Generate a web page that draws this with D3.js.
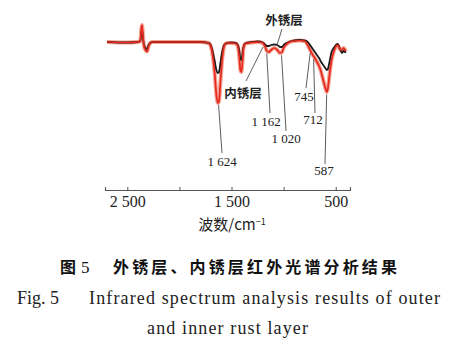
<!DOCTYPE html>
<html>
<head>
<meta charset="utf-8">
<script src="https://cdn.jsdelivr.net/npm/d3@7"></script>
<style>
  body { margin: 0; background: #fff; }
  svg { display: block; }
</style>
</head>
<body>
<div id="chart"></div>
<script>
// wavenumbers (cm-1), shared by both spectra
const wavenumbers = [2695, 2500, 2400, 2375, 2365, 2358, 2350, 2340, 2325, 2310, 2295, 2280, 2260,
  2000, 1800, 1720, 1700, 1680, 1660, 1645, 1630, 1620, 1605, 1590, 1575, 1560, 1540, 1500,
  1460, 1440, 1425, 1415, 1405, 1395, 1385, 1370, 1340, 1300, 1250, 1200, 1180, 1160, 1140,
  1120, 1090, 1060, 1035, 1015, 1000, 970, 940, 900, 850, 800, 780, 760, 740, 720, 700, 680,
  660, 640, 620, 600, 585, 575, 560, 540, 520, 505, 485, 470, 455, 440, 425, 410, 400];

// inner rust layer (red)
const innerLayer = [78, 77.5, 78, 79, 92, 95, 84, 74, 70, 68.5, 74, 77, 78,
  78, 78, 77, 74, 64, 45, 25, 17, 19, 40, 60, 72, 76, 77, 77,
  76.5, 74, 62, 50, 48, 58, 72, 76, 77, 77.5, 78, 77, 74, 69, 68,
  70, 72, 70, 67, 68, 72, 76, 78, 79, 79.5, 79, 77, 73, 69, 65, 62, 58,
  54, 48, 40, 32, 28, 32, 45, 60, 68, 72, 75, 73, 70, 70, 72, 70, 69];

// outer rust layer (black)
const outerLayer = [78, 77.5, 78, 79, 88, 90, 82, 75, 72, 71, 75, 77, 78,
  78, 78, 77, 75, 68, 58, 50, 47, 48, 58, 68, 74, 76, 77, 77.5,
  77, 75, 69, 61, 60, 66, 73, 76.5, 77.5, 78, 78.5, 77.5, 75.5, 74, 74,
  75, 75.5, 75, 73, 73, 75, 77, 78.5, 79.5, 80, 79.5, 79, 77, 74, 71, 68, 65,
  62, 58, 55, 52, 50, 51, 58, 68, 72, 74, 76, 74, 70, 67, 69, 68, 68];

const xTicks = [2500, 2000, 1500, 1000, 500];
const xTickLabels = [2500, 1500, 500];

const peakLabels = ["1 624", "1 162", "1 020", "745", "712", "587"];
const peakWavenumbers = [1624, 1162, 1020, 745, 712, 587];

const width = 467, height = 353;

const svg = d3.select("#chart").append("svg")
  .attr("width", width)
  .attr("height", height);

const x = d3.scaleLinear().domain([2714, 363]).range([105, 350]);
const y = d3.scaleLinear().domain([0, 100]).range([120, 20]);

// axis
const fmt = d => {
  if (!xTickLabels.includes(d)) return "";
  return d >= 1000 ? Math.floor(d / 1000) + " " + String(d % 1000).padStart(3, "0") : String(d);
};
const xAxis = d3.axisBottom(x).tickValues(xTicks).tickSize(-3).tickPadding(6).tickFormat(fmt);
const gx = svg.append("g")
  .attr("transform", "translate(0,190)")
  .call(xAxis);
gx.select(".domain").attr("stroke", "#555").attr("stroke-width", 1.1);
gx.selectAll(".tick line").attr("stroke", "#555");
gx.selectAll(".tick text")
  .attr("fill", "#222")
  .style("font-family", "'Liberation Serif', serif")
  .style("font-size", "16px");

svg.append("text")
  .attr("x", 232).attr("y", 230)
  .attr("text-anchor", "middle")
  .style("font-family", "'Noto Sans CJK SC', sans-serif")
  .style("font-size", "15px")
  .attr("fill", "#222")
  .text("波数/cm")
  .append("tspan")
  .attr("dy", -5)
  .style("font-size", "9px")
  .text("−1");

// spectra
const inner = wavenumbers.map((w, i) => [w, innerLayer[i]]);
const outer = wavenumbers.map((w, i) => [w, outerLayer[i]]);
const line = d3.line().x(d => x(d[0])).y(d => y(d[1])).curve(d3.curveMonotoneX);

svg.append("path").datum(inner)
  .attr("fill", "none").attr("stroke", "#f4a294").attr("stroke-width", 4)
  .attr("stroke-linejoin", "round").attr("d", line);
svg.append("path").datum(outer)
  .attr("fill", "none").attr("stroke", "#1c1c1c").attr("stroke-width", 1.8)
  .attr("stroke-linejoin", "round").attr("d", line);
svg.append("path").datum(inner)
  .attr("fill", "none").attr("stroke", "#e62a1e").attr("stroke-width", 1.7)
  .attr("stroke-linejoin", "round").attr("d", line);

// peak annotations: label position in pixels [x, baseline, leader end]
const labelPos = [[222, 166, 153], [266, 126, 113], [286, 143, 131], [304, 101, 88], [313, 124, 113], [324, 175, 164]];
const leaderDx = [0, 4, 0, 2, 2, 1];
const interp = w => {
  const i = wavenumbers.findIndex(v => v <= w);
  const w0 = wavenumbers[i - 1], w1 = wavenumbers[i];
  const t = (w0 - w) / (w0 - w1);
  return innerLayer[i - 1] + (innerLayer[i] - innerLayer[i - 1]) * t;
};
peakLabels.forEach((lab, i) => {
  const [lx, ly, lend] = labelPos[i];
  const tipX = x(peakWavenumbers[i]);
  const tipY = y(interp(peakWavenumbers[i])) + 3;
  svg.append("line")
    .attr("x1", tipX).attr("y1", tipY)
    .attr("x2", lx + leaderDx[i]).attr("y2", lend)
    .attr("stroke", "#333").attr("stroke-width", 0.8);
  svg.append("text")
    .attr("x", lx).attr("y", ly)
    .attr("text-anchor", "middle")
    .style("font-family", "'Liberation Serif', serif")
    .style("font-size", "13px")
    .attr("fill", "#222")
    .text(lab);
});

// layer labels
svg.append("line").attr("x1", 246).attr("y1", 81).attr("x2", 263).attr("y2", 47)
  .attr("stroke", "#333").attr("stroke-width", 0.8);
svg.append("line").attr("x1", 282).attr("y1", 29).attr("x2", 277).attr("y2", 45)
  .attr("stroke", "#333").attr("stroke-width", 0.8);
svg.append("text").attr("x", 243).attr("y", 98).attr("text-anchor", "middle")
  .style("font-family", "'Noto Sans CJK SC', sans-serif").style("font-size", "12.5px")
  .style("font-weight", "bold").attr("fill", "#222").text("内锈层");
svg.append("text").attr("x", 284).attr("y", 25).attr("text-anchor", "middle")
  .style("font-family", "'Noto Sans CJK SC', sans-serif").style("font-size", "12.5px")
  .style("font-weight", "bold").attr("fill", "#222").text("外锈层");

// caption
const cap1 = svg.append("text").attr("x", 60).attr("y", 273)
  .attr("fill", "#111");
cap1.append("tspan")
  .style("font-family", "'Noto Sans CJK SC', sans-serif").style("font-size", "16px")
  .style("font-weight", "bold").text("图");
cap1.append("tspan").attr("dx", 5)
  .style("font-family", "'Liberation Serif', serif").style("font-size", "17px").text("5");
cap1.append("tspan").attr("x", 113)
  .attr("textLength", 284).attr("lengthAdjust", "spacing")
  .style("font-family", "'Noto Sans CJK SC', sans-serif").style("font-size", "16px")
  .style("font-weight", "bold").text("外锈层、内锈层红外光谱分析结果");

const serif = "'Liberation Serif', serif";
const cap2 = svg.append("text").attr("y", 304).attr("fill", "#222")
  .style("font-family", serif).style("font-size", "18px");
cap2.append("tspan").attr("x", 17).text("Fig.  5");
cap2.append("tspan").attr("x", 89).attr("textLength", 351).attr("lengthAdjust", "spacing")
  .text("Infrared spectrum analysis results of outer");
svg.append("text").attr("x", 147).attr("y", 334).attr("fill", "#222")
  .attr("textLength", 161).attr("lengthAdjust", "spacing")
  .style("font-family", serif).style("font-size", "18px")
  .text("and inner rust layer");
</script>
</body>
</html>
